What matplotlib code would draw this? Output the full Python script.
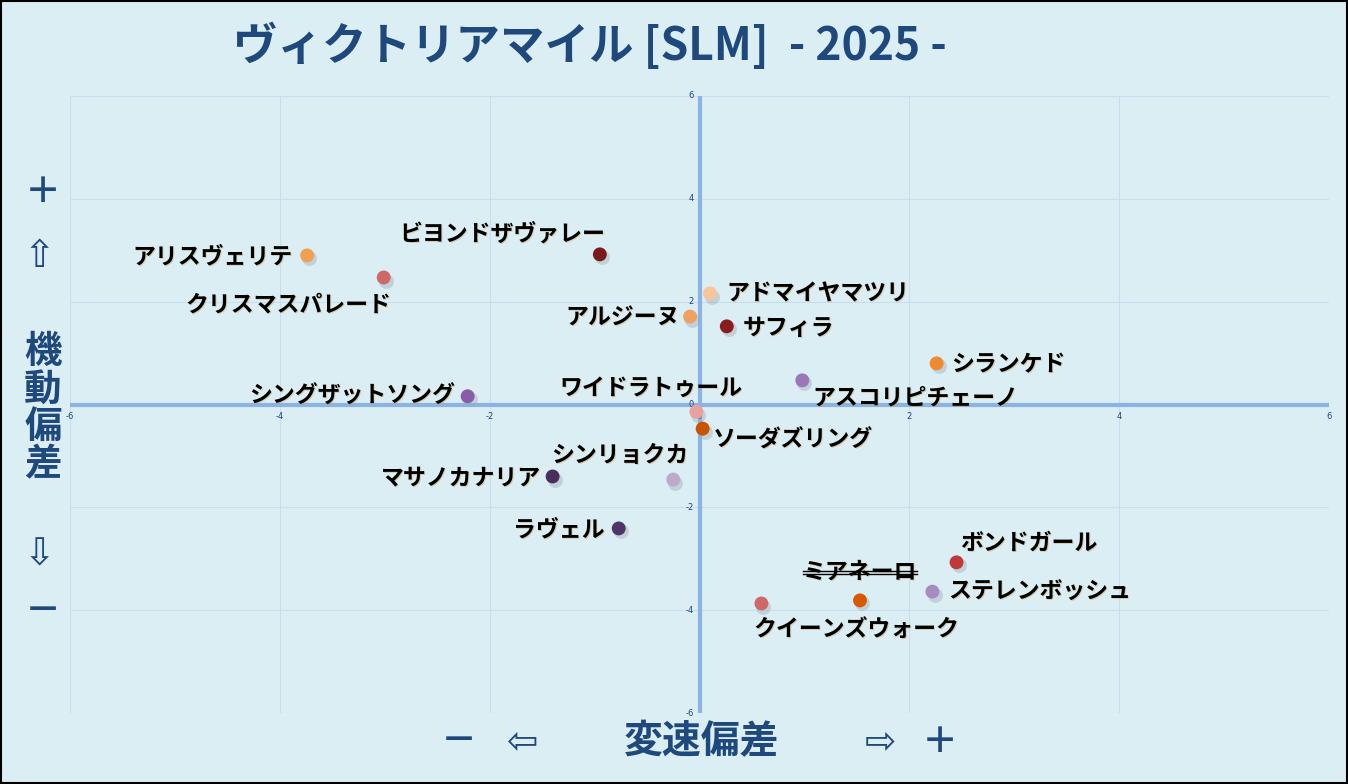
import matplotlib.pyplot as plt
from matplotlib.lines import Line2D

plt.rcParams['font.family'] = ['Noto Sans CJK JP', 'DejaVu Sans']

# 馬名・座標（変速偏差, 機動偏差）
horses = ['アリスヴェリテ', 'クリスマスパレード', 'ビヨンドザヴァレー', 'アドマイヤマツリ',
          'アルジーヌ', 'サフィラ', 'シランケド', 'ワイドラトゥール', 'アスコリピチェーノ',
          'シングザットソング', 'ソーダズリング', 'シンリョクカ', 'マサノカナリア', 'ラヴェル',
          'ボンドガール', 'ミアネーロ', 'ステレンボッシュ', 'クイーンズウォーク']
speed_dev = [-3.74, -3.01, -0.95, 0.10, -0.09, 0.26, 2.26, -0.03, 0.98,
             -2.21, 0.03, -0.25, -1.40, -0.77, 2.45, 1.53, 2.22, 0.59]
move_dev = [2.90, 2.47, 2.92, 2.16, 1.71, 1.52, 0.80, -0.14, 0.47,
            0.16, -0.47, -1.46, -1.40, -2.41, -3.07, -3.81, -3.64, -3.87]
colors = ['#F0A050', '#D06868', '#7A1A1A', '#F8C49A', '#F0A060', '#8A1C1C', '#F08A30',
          '#E8A0A0', '#9A78B8', '#8A5CA8', '#C85400', '#C0A8CC', '#4A2E5C', '#4E3468',
          '#C0383A', '#D85A00', '#A88CC0', '#D06868']
scratched = ['ミアネーロ']
ticks = [-6, -4, -2, 0, 2, 4, 6]

# ラベル位置（点からのピクセルオフセット, 揃え）
label_off = [(-15, -2, 'right'), (8, -27, 'right'), (5, 20, 'right'), (16, -1, 'left'),
             (-10, -2, 'right'), (16, -2, 'left'), (15, -1, 'left'), (46, 23, 'right'),
             (10, -18, 'left'), (-13, 0, 'right'), (10, -12, 'left'), (15, 24, 'right'),
             (-12, -1, 'right'), (-14, -2, 'right'), (4, 19, 'left'), (-57, 28, 'left'),
             (16, -1, 'left'), (-8, -26, 'left')]

bg = '#DAEEF3'
navy = '#1F497D'
axis_blue = '#8DB3E2'

fig = plt.figure(figsize=(13.48, 7.84), dpi=100, facecolor=bg)
ax = fig.add_axes([70 / 1348, 1 - 713 / 784, 1259 / 1348, 617 / 784])
ax.set_facecolor(bg)
ax.set_xlim(-6, 6)
ax.set_ylim(-6, 6)
for s in ax.spines.values():
    s.set_visible(False)
ax.set_xticks(ticks)
ax.set_yticks(ticks)
ax.grid(True, color='#C9DDF0', linewidth=0.8)
ax.tick_params(length=0, labelbottom=False, labelleft=False)
ax.axhline(0, color=axis_blue, linewidth=3, zorder=2)
ax.axvline(0, color=axis_blue, linewidth=3, zorder=2)

# 軸上の目盛ラベル
for t in ticks:
    ax.annotate(str(t), (t, 0), xytext=(0, -7), textcoords='offset pixels',
                ha='center', va='top', fontsize=6, color=navy, family='DejaVu Sans')
    ax.annotate(str(t), (0, t), xytext=(-6, 0), textcoords='offset pixels',
                ha='right', va='center', fontsize=6, color=navy, family='DejaVu Sans')

# 影つきマーカー
ax.scatter([x + 0.02 for x in speed_dev], [y - 0.06 for y in move_dev], s=115,
           color='#9AAAB0', alpha=0.4, linewidths=0, zorder=3)
ax.scatter(speed_dev, move_dev, s=100, c=colors, linewidths=0, zorder=4)

texts = {}
for name, x, y, (dx, dy, ha) in zip(horses, speed_dev, move_dev, label_off):
    ax.annotate(name, (x, y), xytext=(dx + 1, dy - 1), textcoords='offset pixels',
                ha=ha, va='center', fontsize=16.5, fontweight='bold', color='#C8A060',
                alpha=0.45, zorder=5)
    texts[name] = ax.annotate(name, (x, y), xytext=(dx, dy), textcoords='offset pixels',
                              ha=ha, va='center', fontsize=16.5, fontweight='bold',
                              color='black', zorder=6)

# 取消馬の二重線
fig.canvas.draw()
for name in scratched:
    bb = texts[name].get_window_extent()
    ym = (bb.y0 + bb.y1) / 2
    for off in (-1.5, 1.5):
        fig.add_artist(Line2D([bb.x0 / 1348, bb.x1 / 1348],
                              [(ym + off) / 784, (ym + off) / 784],
                              color='black', linewidth=1, transform=fig.transFigure))

# タイトル
fig.text(590 / 1348, 1 - 46 / 784, 'ヴィクトリアマイル [SLM]  - 2025 -', ha='center',
         va='center', fontsize=32, fontweight='bold', color=navy)

# 軸の説明
side = dict(ha='center', va='center', color=navy, fontweight='bold')
arrow = dict(ha='center', va='center', color=navy, family=['DejaVu Sans'], fontsize=27)
fig.text(43 / 1348, 1 - 193 / 784, '＋', fontsize=26, **side)
fig.text(39 / 1348, 1 - 257 / 784, '⇧', **arrow)
fig.text(43 / 1348, 1 - 408 / 784, '機\n動\n偏\n差', fontsize=27, linespacing=0.95, **side)
fig.text(39 / 1348, 1 - 555 / 784, '⇩', **arrow)
fig.text(43 / 1348, 1 - 612 / 784, '－', fontsize=26, **side)

fig.text(459 / 1348, 1 - 742 / 784, '－', fontsize=26, **side)
fig.text(523 / 1348, 1 - 743 / 784, '⇦', **arrow)
fig.text(702 / 1348, 1 - 742 / 784, '変速偏差', fontsize=28, **side)
fig.text(880 / 1348, 1 - 743 / 784, '⇨', **arrow)
fig.text(940 / 1348, 1 - 742 / 784, '＋', fontsize=26, **side)

# 外枠
fig.add_artist(plt.Rectangle((0.0007, 0.001), 0.9986, 0.998, fill=False, edgecolor='black',
                             linewidth=1.5, transform=fig.transFigure))

fig.savefig('out.png', dpi=100, facecolor=bg)
